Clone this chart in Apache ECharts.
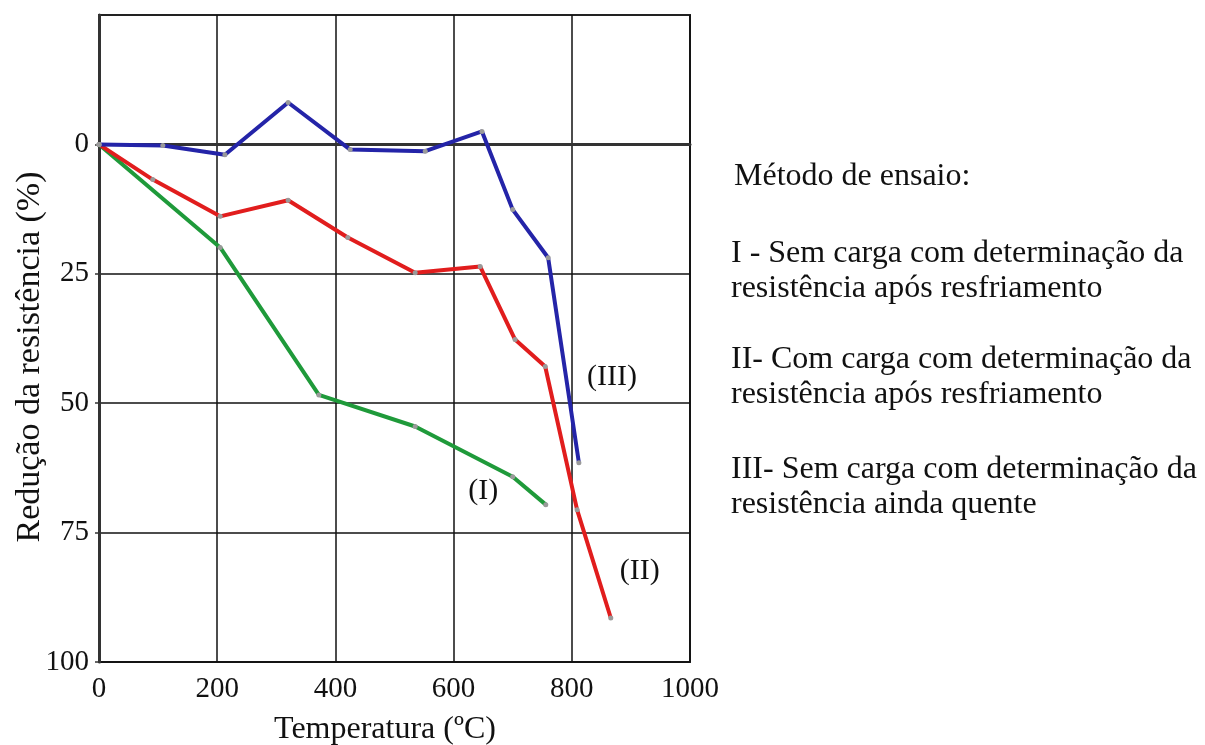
<!DOCTYPE html>
<html>
<head>
<meta charset="utf-8">
<script src="https://cdn.jsdelivr.net/npm/echarts@6/dist/echarts.min.js"></script>
<style>
	html, body { margin: 0; padding: 0; background: #fff; }
	#chart { width: 1205px; height: 745px; }
</style>
</head>
<body>
<div id="chart"></div>
<script>
// curva I - sem carga, resistência após resfriamento
const serieI = [[0, 0], [205, 19.9], [372, 48.4], [535, 54.5], [700, 64.2], [756, 69.6]]
// curva II - com carga, resistência após resfriamento
const serieII = [[0, 0], [91, 6.8], [205, 13.9], [320, 10.8], [421, 18], [535, 24.8], [645, 23.6], [704, 37.7], [755, 42.9], [809, 70.6], [866, 91.5]]
// curva III - sem carga, resistência ainda quente
const serieIII = [[0, 0], [108, 0.2], [213, 2], [320, -8.1], [425, 1], [552, 1.3], [648, -2.5], [700, 12.6], [760, 21.9], [812, 61.5]]

const curveNames = ['(I)', '(II)', '(III)']
const curvePos = [[650, 67], [915, 82.5], [868, 45]]
const yTicks = [0, 25, 50, 75, 100]

const xTitle = 'Temperatura (ºC)'
const yTitle = 'Redução da resistência (%)'
const legendTitle = 'Método de ensaio:'
const legendLines = [
	['I - Sem carga com determinação da', 'resistência após resfriamento'],
	['II- Com carga com determinação da', 'resistência após resfriamento'],
	['III- Sem carga com determinação da', 'resistência ainda quente']
]
const legendTops = [236, 342, 452]

const FONT = '"Liberation Serif", "DejaVu Serif", serif'
const chart = echarts.init(document.getElementById('chart'))

const lineSeries = (name, data, color) => ({
	name,
	type: 'line',
	data,
	symbol: 'circle',
	symbolSize: 5,
	showSymbol: true,
	itemStyle: { color: '#9a9a9a' },
	lineStyle: { color, width: 4 },
	z: 3
})

// títulos dos eixos e texto explicativo à direita
const graphics = [
	{
		type: 'text', x: 385, y: 730,
		style: { text: xTitle, font: '32px ' + FONT, fill: '#111', align: 'center', verticalAlign: 'middle' }
	},
	{
		type: 'text', x: 30, y: 357, rotation: Math.PI / 2,
		style: { text: yTitle, font: '34px ' + FONT, fill: '#111', align: 'center', verticalAlign: 'middle' }
	},
	{
		type: 'text', x: 734, y: 159,
		style: { text: legendTitle, font: '32px ' + FONT, fill: '#111', lineHeight: 35, verticalAlign: 'top' }
	}
]
legendLines.forEach((pair, i) => {
	graphics.push({
		type: 'text', x: 731, y: legendTops[i],
		style: { text: pair.join('\n'), font: '32px ' + FONT, fill: '#111', lineHeight: 35, verticalAlign: 'top' }
	})
})

chart.setOption({
	animation: false,
	backgroundColor: '#fff',
	grid: { left: 99, right: 515, top: 15, bottom: 83, show: true, borderColor: '#222', borderWidth: 2 },
	xAxis: {
		type: 'value', min: 0, max: 1000, interval: 200,
		axisLine: { show: true, lineStyle: { color: '#333', width: 3 } },
		axisTick: { show: false },
		axisLabel: { fontFamily: FONT, fontSize: 29, color: '#111', margin: 13, formatter: v => String(v) },
		splitLine: { show: true, lineStyle: { color: '#111', width: 1.5 } }
	},
	yAxis: {
		type: 'value', inverse: true, min: -25, max: 100, interval: 25,
		axisLine: { show: true, lineStyle: { color: '#333', width: 3 } },
		axisTick: { show: true, length: 4, customValues: yTicks, lineStyle: { color: '#333', width: 1.5 } },
		axisLabel: {
			fontFamily: FONT, fontSize: 29, color: '#111', margin: 10,
			formatter: v => (v < 0 ? '' : String(v))
		},
		splitLine: { show: true, lineStyle: { color: '#111', width: 1.5 } }
	},
	series: [
		lineSeries('I', serieI, '#1f9a3a'),
		lineSeries('II', serieII, '#e11d1d'),
		lineSeries('III', serieIII, '#2424a8')
	]
})

// rótulos das curvas, posicionados pela escala dos eixos
curvePos.forEach((p, i) => {
	const [px, py] = chart.convertToPixel({ gridIndex: 0 }, p)
	graphics.push({
		type: 'text', x: px, y: py, z: 10,
		style: { text: curveNames[i], font: '30px ' + FONT, fill: '#111', align: 'center', verticalAlign: 'middle' }
	})
})
chart.setOption({ graphic: graphics })
</script>
</body>
</html>
